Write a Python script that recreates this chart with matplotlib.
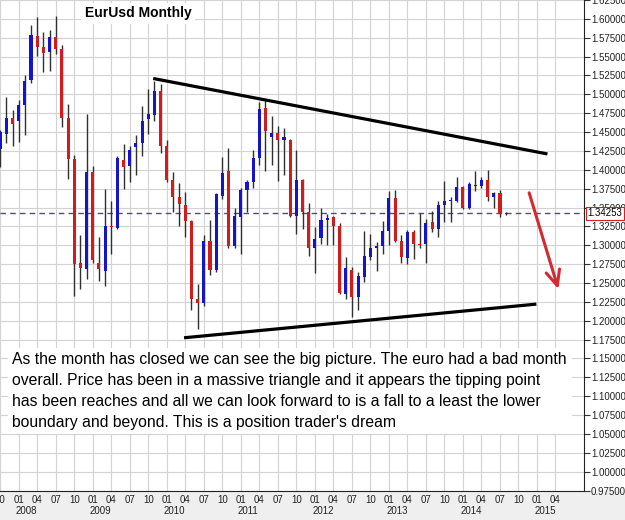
import matplotlib

matplotlib.use("Agg")
import matplotlib.pyplot as plt
import matplotlib.transforms as mtransforms
import numpy as np
import pandas as pd

# monthly EURUSD candles, Oct 2007 .. Aug 2014
opens = [1.428, 1.447, 1.468, 1.464, 1.486, 1.519, 1.577, 1.563, 1.556, 1.576,
         1.560, 1.468, 1.414, 1.277, 1.269, 1.397, 1.276, 1.266, 1.326, 1.323,
         1.413, 1.405, 1.430, 1.435, 1.467, 1.472, 1.505, 1.432, 1.386, 1.364,
         1.354, 1.332, 1.229, 1.224, 1.306, 1.267, 1.365, 1.398, 1.299, 1.337,
         1.373, 1.384, 1.416, 1.482, 1.443, 1.449, 1.440, 1.440, 1.339, 1.386,
         1.344, 1.296, 1.309, 1.334, 1.337, 1.325, 1.235, 1.267, 1.231, 1.258,
         1.285, 1.297, 1.299, 1.319, 1.362, 1.306, 1.283, 1.317, 1.302, 1.302,
         1.331, 1.322, 1.354, 1.359, 1.359, 1.377, 1.350, 1.378, 1.379, 1.387,
         1.364, 1.369, 1.3408]
highs = [1.453, 1.497, 1.479, 1.493, 1.526, 1.592, 1.603, 1.583, 1.585, 1.604,
         1.565, 1.487, 1.419, 1.313, 1.474, 1.405, 1.311, 1.375, 1.359, 1.418,
         1.434, 1.432, 1.446, 1.485, 1.507, 1.518, 1.514, 1.440, 1.397, 1.382,
         1.370, 1.333, 1.249, 1.313, 1.334, 1.369, 1.417, 1.429, 1.350, 1.376,
         1.387, 1.426, 1.490, 1.493, 1.471, 1.458, 1.456, 1.441, 1.426, 1.388,
         1.356, 1.324, 1.350, 1.342, 1.339, 1.329, 1.284, 1.271, 1.264, 1.319,
         1.315, 1.304, 1.332, 1.372, 1.373, 1.314, 1.320, 1.320, 1.343, 1.335,
         1.345, 1.358, 1.385, 1.364, 1.390, 1.378, 1.384, 1.398, 1.390, 1.400,
         1.371, 1.373, 1.3435]
lows = [1.404, 1.435, 1.432, 1.437, 1.446, 1.515, 1.551, 1.529, 1.531, 1.553,
        1.457, 1.388, 1.233, 1.242, 1.255, 1.277, 1.252, 1.246, 1.288, 1.321,
        1.375, 1.384, 1.393, 1.418, 1.448, 1.465, 1.422, 1.384, 1.344, 1.326,
        1.311, 1.214, 1.189, 1.220, 1.260, 1.265, 1.361, 1.296, 1.296, 1.288,
        1.344, 1.376, 1.407, 1.398, 1.407, 1.385, 1.393, 1.337, 1.315, 1.321,
        1.286, 1.263, 1.302, 1.301, 1.301, 1.235, 1.229, 1.205, 1.214, 1.251,
        1.280, 1.266, 1.288, 1.301, 1.304, 1.276, 1.275, 1.282, 1.296, 1.276,
        1.318, 1.311, 1.331, 1.331, 1.357, 1.348, 1.348, 1.372, 1.376, 1.358,
        1.350, 1.337, 1.340]
closes = [1.450, 1.468, 1.461, 1.486, 1.518, 1.578, 1.563, 1.555, 1.576, 1.560,
          1.468, 1.414, 1.275, 1.270, 1.397, 1.281, 1.268, 1.326, 1.324, 1.416,
          1.404, 1.426, 1.435, 1.465, 1.474, 1.505, 1.432, 1.386, 1.364, 1.355,
          1.332, 1.229, 1.224, 1.306, 1.267, 1.368, 1.396, 1.299, 1.339, 1.373,
          1.384, 1.416, 1.481, 1.452, 1.449, 1.440, 1.443, 1.339, 1.386, 1.344,
          1.296, 1.308, 1.334, 1.336, 1.326, 1.237, 1.270, 1.231, 1.259, 1.286,
          1.297, 1.299, 1.319, 1.362, 1.305, 1.284, 1.317, 1.302, 1.300, 1.330,
          1.322, 1.353, 1.359, 1.360, 1.377, 1.350, 1.381, 1.379, 1.387, 1.364,
          1.369, 1.341, 1.34253]

last_price = 1.34253
upper_line = ([24.8, 88.7], [1.521, 1.421])
lower_line = ([29.8, 86.9], [1.1774, 1.222])
arrow_from = (85.6, 1.373)
arrow_to = (90.6, 1.2383)

# time axis runs Oct 2007 .. Apr 2015 (last labelled quarter)
axis_months = pd.period_range("2007-10", "2015-04", freq="M")
y_ticks = np.arange(0.975, 1.6251, 0.025)

note_lines = [
    "As the month has closed we can see the big picture. The euro had a bad month",
    "overall. Price has been in a massive triangle and it appears the tipping point",
    "has been reaches and all we can look forward to is a fall to a least the lower",
    "boundary and beyond. This is a position trader's dream",
]

plt.rcParams["font.family"] = ["Liberation Sans", "DejaVu Sans"]

fig = plt.figure(figsize=(6.25, 5.2), dpi=100)
fig.patches.append(plt.Rectangle((0, 0), 1, 0.0567, transform=fig.transFigure,
                                 color="#efefef", zorder=-1))
ax = fig.add_axes([0, 0.0567, 0.9344, 0.9433])

o = np.array(opens)
c = np.array(closes)
x = np.arange(len(o))
colors = np.where(c >= o, "#1414c8", "#d01c1c")
ax.vlines(x, lows, highs, color="#303030", lw=1, zorder=3)
ax.bar(x, np.maximum(np.abs(c - o), 0.0014), width=0.5, bottom=np.minimum(o, c),
       color=colors, linewidth=0, zorder=4)

ax.axhline(last_price, color="#50506e", lw=1, dashes=(4, 3), zorder=2)
ax.plot(*upper_line, color="black", lw=2.3, solid_capstyle="butt", zorder=5)
ax.plot(*lower_line, color="black", lw=2.3, solid_capstyle="butt", zorder=5)
ax.annotate("", xy=arrow_to, xytext=arrow_from, zorder=6,
            arrowprops=dict(arrowstyle="->,head_length=1.1,head_width=0.5",
                            color="#d42a32", lw=2.2))

ax.set_xlim(-0.03, 94.62)
ax.set_ylim(0.975, 1.6245)

q_idx = [i for i, p in enumerate(axis_months) if p.month in (1, 4, 7, 10)]
ax.set_xticks(q_idx)
ax.set_xticklabels([f"{axis_months[i].month:02d}" for i in q_idx])
ax.set_yticks(y_ticks)
ax.set_yticklabels([f"{v:.5f}" for v in y_ticks])
ax.yaxis.tick_right()
ax.tick_params(axis="both", labelsize=7, labelcolor="#222222", color="#333333")
ax.tick_params(axis="y", length=4, pad=1)
ax.tick_params(axis="x", length=0, pad=3)
ax.grid(True, color="#d2d2d2", lw=0.8, zorder=0)
ax.set_axisbelow(True)
for side in ("left", "top"):
    ax.spines[side].set_visible(False)
for side in ("right", "bottom"):
    ax.spines[side].set_color("#222222")

xt = mtransforms.blended_transform_factory(ax.transData, ax.transAxes)
for i, p in enumerate(axis_months):
    if p.month == 1:
        ax.text(i - 0.45, -0.042, str(p.year), transform=xt, fontsize=7,
                color="#222222", ha="left", va="center", clip_on=False)

yt = mtransforms.blended_transform_factory(ax.transAxes, ax.transData)
ax.text(1.006, last_price, f"{last_price:.5f}", transform=yt, fontsize=7,
        ha="left", va="center", clip_on=False, zorder=10,
        bbox=dict(boxstyle="square,pad=0.15", fc="white", ec="#d02020", lw=0.8))

ax.text(0.1455, 0.9725, "EurUsd Monthly", transform=ax.transAxes, fontsize=10,
        fontweight="bold", ha="left", va="center", zorder=8,
        bbox=dict(boxstyle="square,pad=0.25", fc="white", ec="none"))

ax.add_patch(plt.Rectangle((0.014, 1 - 434 / 490.5), 0.965, 86 / 490.5,
                           transform=ax.transAxes, fc="white", ec="none", zorder=7))
for k, line in enumerate(note_lines):
    ax.text(0.0205, 1 - (359 + 21 * k) / 490.5, line, transform=ax.transAxes,
            fontsize=11.3, ha="left", va="center", zorder=8)

fig.savefig("out.png", dpi=100)
